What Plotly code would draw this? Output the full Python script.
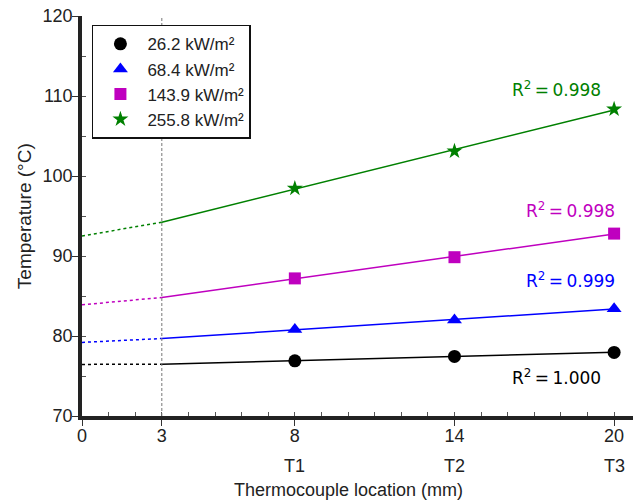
import numpy as np
import plotly.graph_objects as go

# ---- data ----
positions = [8, 14, 20]
position_labels = ["T1", "T2", "T3"]
x_tick_vals = [0, 3, 8, 14, 20]
series_names = ["26.2 kW/m²", "68.4 kW/m²", "143.9 kW/m²", "255.8 kW/m²"]
temp_26 = [76.9, 77.45, 77.95]
temp_68 = [80.8, 82.0, 83.4]
temp_144 = [87.2, 89.85, 92.8]
temp_256 = [98.45, 103.1, 108.35]
extrap_at_0 = [76.45, 79.2, 83.9, 92.5]
r2_labels = ["1.000", "0.999", "0.998", "0.998"]

series_vals = [temp_26, temp_68, temp_144, temp_256]
colors = ["#000000", "#0000ff", "#bf00bf", "#008000"]
symbols = ["circle", "triangle-up", "square", "star"]
msizes = [13, 13, 12, 12]
# label placement (x right edge, y centre)
r2_pos = [(19.6, 74.9), (20.12, 87.0), (20.12, 95.75), (19.6, 110.9)]

fig = go.Figure()
x_start, x_end = 3, 20
for vals, name, col, sym, ms, y0 in zip(series_vals, series_names, colors,
                                        symbols, msizes, extrap_at_0):
    slope, icpt = np.polyfit(positions, vals, 1)
    y3 = slope * x_start + icpt
    y20 = slope * x_end + icpt
    fig.add_trace(go.Scatter(x=[0, x_start], y=[y0, y3], mode="lines",
                             line=dict(color=col, width=1.5, dash="dot"),
                             showlegend=False, hoverinfo="skip"))
    fig.add_trace(go.Scatter(x=[x_start, x_end], y=[y3, y20], mode="lines",
                             line=dict(color=col, width=1.5),
                             showlegend=False, hoverinfo="skip"))
    fig.add_trace(go.Scatter(x=positions, y=vals, mode="markers", name=name,
                             marker=dict(color=col, symbol=sym, size=ms,
                                         line=dict(width=0))))

# invisible trace for minor-tick overlay axes
fig.add_trace(go.Scatter(x=[0], y=[70], xaxis="x2", yaxis="y2", mode="markers",
                         marker=dict(opacity=0), showlegend=False, hoverinfo="skip"))

for (ax, ay), lab, col in zip(r2_pos, r2_labels, colors):
    fig.add_annotation(x=ax, y=ay, xref="x", yref="y", xanchor="right", yanchor="middle",
                       text="R<sup>2</sup>\u2009=\u2009" + lab, showarrow=False,
                       font=dict(family="DejaVu Sans", size=17, color=col))

for p, lab in zip(positions, position_labels):
    fig.add_annotation(x=p, y=-0.125, xref="x", yref="paper", yanchor="middle",
                       text=lab, showarrow=False,
                       font=dict(family="Liberation Sans", size=18, color="#222"))

fig.add_annotation(x=10, y=-0.185, xref="x", yref="paper", yanchor="middle",
                   text="Thermocouple location (mm)", showarrow=False,
                   font=dict(family="Liberation Sans", size=18, color="#222"))
fig.add_annotation(x=-0.105, y=0.5, xref="paper", yref="paper", textangle=-90,
                   xanchor="center", yanchor="middle",
                   text="Temperature (°C)", showarrow=False,
                   font=dict(family="Liberation Sans", size=19, color="#222"))

fig.add_shape(type="line", x0=3, x1=3, y0=0, y1=1, xref="x", yref="paper",
              line=dict(color="#777777", width=1, dash="3px,2px"))

xr = [0, 20.71]
yr = [70, 120]
common = dict(showgrid=False, zeroline=False)
fig.update_layout(
    width=633, height=502,
    margin=dict(l=82, r=0, t=16, b=86),
    plot_bgcolor="white", paper_bgcolor="white",
    font=dict(family="Liberation Sans", size=18, color="#222"),
    xaxis=dict(range=xr, tickvals=x_tick_vals, ticks="outside", ticklen=6,
               tickwidth=1.2, tickcolor="#333", showline=True, linewidth=3.5,
               linecolor="#222", tickfont=dict(size=18), ticklabelstandoff=-5,
               **common),
    yaxis=dict(range=yr, dtick=10, tick0=70, ticks="outside", ticklen=6,
               tickwidth=1.2, tickcolor="#333", showline=True, linewidth=3.5,
               linecolor="#222", tickfont=dict(size=18), ticklabelstandoff=-4,
               **common),
    xaxis2=dict(range=xr, overlaying="x", anchor="y2", side="bottom", dtick=1,
                tick0=0, ticks="inside", ticklen=4, tickwidth=1, tickcolor="#555",
                showticklabels=False, showline=False, **common),
    yaxis2=dict(range=yr, overlaying="y", anchor="x2", side="left", dtick=5,
                tick0=70, ticks="inside", ticklen=4, tickwidth=1, tickcolor="#555",
                showticklabels=False, showline=False, **common),
    legend=dict(x=0.018, y=0.978, xanchor="left", yanchor="top",
                bgcolor="white", bordercolor="#111", borderwidth=1.5,
                font=dict(family="Liberation Sans", size=17, color="#222"),
                itemwidth=44),
    showlegend=True,
)

fig.write_html("out.html", config={"displayModeBar": False},
               post_script="document.body.style.margin='0';document.body.style.padding='0';")
